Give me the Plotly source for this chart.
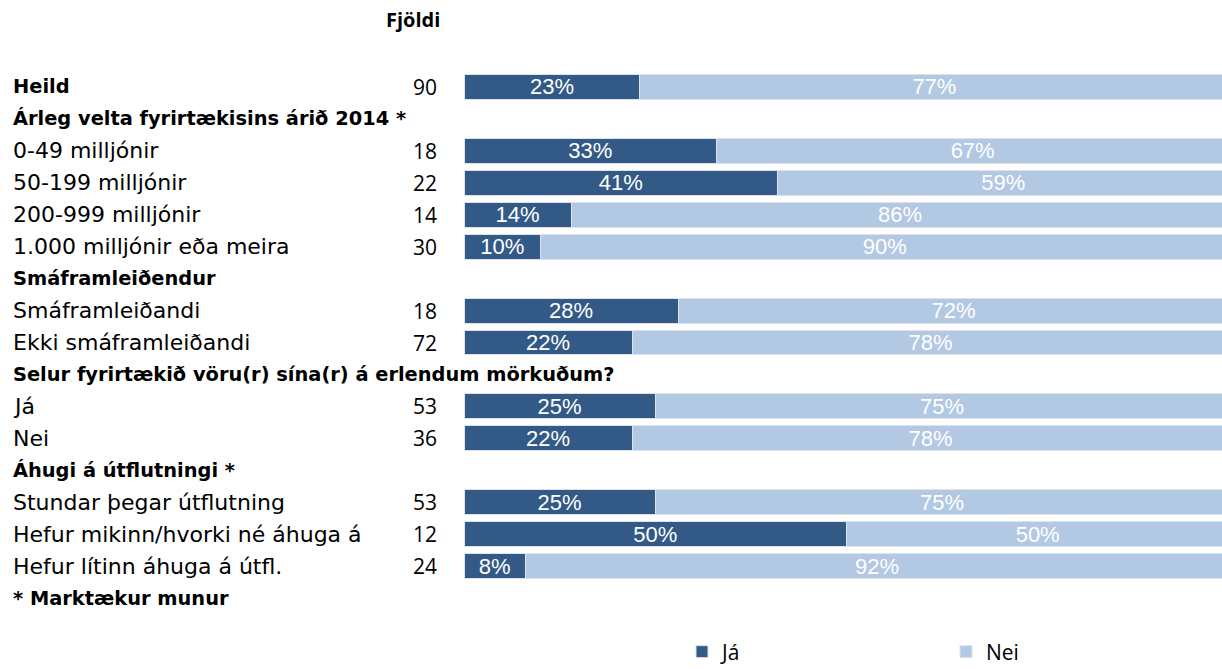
import plotly.graph_objects as go

rows = [
    "Heild",
    "Árleg velta fyrirtækisins árið 2014 *",
    "0-49 milljónir",
    "50-199 milljónir",
    "200-999 milljónir",
    "1.000 milljónir eða meira",
    "Smáframleiðendur",
    "Smáframleiðandi",
    "Ekki smáframleiðandi",
    "Selur fyrirtækið vöru(r) sína(r) á erlendum mörkuðum?",
    "Já",
    "Nei",
    "Áhugi á útflutningi *",
    "Stundar þegar útflutning",
    "Hefur mikinn/hvorki né áhuga á",
    "Hefur lítinn áhuga á útfl.",
    "* Marktækur munur",
]
bold_rows = [True, True, False, False, False, False, True, False, False, True,
             False, False, True, False, False, False, True]
counts = [90, None, 18, 22, 14, 30, None, 18, 72, None, 53, 36, None, 53, 12, 24, None]
ja = [23, None, 33, 41, 14, 10, None, 28, 22, None, 25, 22, None, 25, 50, 8, None]
nei = [77, None, 67, 59, 86, 90, None, 72, 78, None, 75, 78, None, 75, 50, 92, None]

DARK = "#335a87"
LIGHT = "#b3c8e3"
LFONT = "DejaVu Sans"
FONT = "Open Sans"
PFONT = "Liberation Sans"

W, H = 1222, 669
L, R, T, B = 464, 0, 71, 55
PW = W - L - R
PH = H - T - B

idx = [i for i, v in enumerate(ja) if v is not None]
fig = go.Figure()
fig.add_trace(go.Bar(
    y=idx, x=[ja[i] for i in idx], orientation="h", name="Já", legend="legend",
    marker=dict(color=DARK, line=dict(color="#dce3ec", width=1)),
    width=0.78, text=[f"{ja[i]}%" for i in idx], textposition="inside",
    insidetextanchor="middle", constraintext="none",
    textfont=dict(color="white", size=22, family=PFONT),
))
fig.add_trace(go.Bar(
    y=idx, x=[nei[i] for i in idx], orientation="h", name="Nei", legend="legend2",
    marker=dict(color=LIGHT, line=dict(color="#dce3ec", width=1)),
    width=0.78, text=[f"{nei[i]}%" for i in idx], textposition="inside",
    insidetextanchor="middle", constraintext="none",
    textfont=dict(color="white", size=22, family=PFONT),
))

def xp(px):
    return (px - L) / PW

def yp(py):
    return (H - B - py) / PH

anns = []
for i, lab in enumerate(rows):
    anns.append(dict(
        x=xp(11), xref="paper", y=i, yref="y", xanchor="left",
        text=f"<b>{lab}</b>" if bold_rows[i] else lab, showarrow=False,
        font=dict(family=LFONT, size=19.4 if bold_rows[i] else 22, color="black"),
    ))
    if counts[i] is not None:
        anns.append(dict(
            x=xp(439), xref="paper", y=i, yref="y", xanchor="right",
            text=str(counts[i]), showarrow=False,
            font=dict(family=FONT, size=21, color="black"),
        ))
anns.append(dict(
    x=xp(413), xref="paper", y=yp(20), yref="paper",
    text="<b>Fjöldi</b>", showarrow=False, xanchor="center", yanchor="middle",
    font=dict(family=FONT, size=20, color="black"),
))

legfont = dict(family=FONT, size=21, color="black")
fig.update_layout(
    width=W, height=H, barmode="stack",
    margin=dict(l=L, r=R, t=T, b=B, pad=0, autoexpand=False),
    plot_bgcolor="white", paper_bgcolor="white",
    xaxis=dict(range=[0, 99.1], visible=False, fixedrange=True),
    yaxis=dict(range=[16.5, -0.5], visible=False, fixedrange=True),
    annotations=anns,
    showlegend=True,
    legend=dict(x=xp(682), xanchor="left", y=yp(652), yanchor="middle",
                font=legfont, itemwidth=30, bgcolor="rgba(0,0,0,0)"),
    legend2=dict(x=xp(946), xanchor="left", y=yp(652), yanchor="middle",
                 font=legfont, itemwidth=30, bgcolor="rgba(0,0,0,0)"),
)
fig.write_html("out.html", config={"displayModeBar": False},
               post_script="document.body.style.margin='0';")
